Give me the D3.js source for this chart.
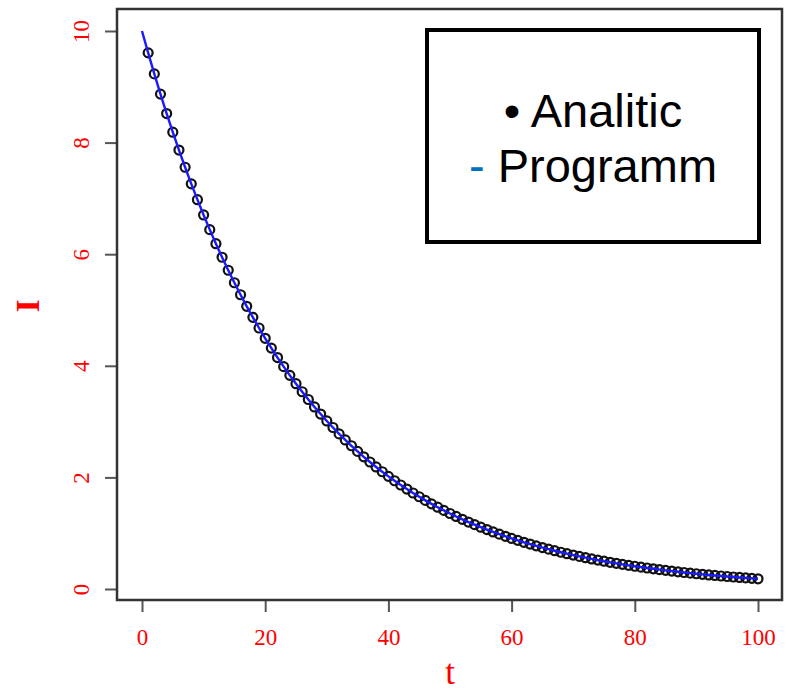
<!DOCTYPE html>
<html>
<head>
<meta charset="utf-8">
<script src="https://cdnjs.cloudflare.com/ajax/libs/d3/7.8.5/d3.min.js"></script>
<style>
    body { margin: 0; background: #fff; }
    svg { display: block; }
</style>
</head>
<body>
<div id="chart"></div>
<script>
// current I(t) for t = 0..100
var current = [
    10.00, 9.608, 9.231, 8.869, 8.521, 8.187, 7.866, 7.558, 7.261, 6.977,
    6.703, 6.440, 6.188, 5.945, 5.712, 5.488, 5.273, 5.066, 4.868, 4.677,
    4.493, 4.317, 4.148, 3.985, 3.829, 3.679, 3.535, 3.396, 3.263, 3.135,
    3.012, 2.894, 2.780, 2.671, 2.567, 2.466, 2.369, 2.276, 2.187, 2.101,
    2.019, 1.940, 1.864, 1.791, 1.720, 1.653, 1.588, 1.526, 1.466, 1.409,
    1.353, 1.300, 1.249, 1.200, 1.153, 1.108, 1.065, 1.023, 0.983, 0.944,
    0.907, 0.872, 0.837, 0.805, 0.773, 0.743, 0.714, 0.686, 0.659, 0.633,
    0.608, 0.584, 0.561, 0.539, 0.518, 0.498, 0.478, 0.460, 0.442, 0.424,
    0.408, 0.392, 0.376, 0.362, 0.347, 0.334, 0.321, 0.308, 0.296, 0.284,
    0.273, 0.263, 0.252, 0.243, 0.233, 0.224, 0.215, 0.207, 0.199, 0.191,
    0.183
];
var xTicks = [0, 20, 40, 60, 80, 100];
var yTicks = [0, 2, 4, 6, 8, 10];
var legendLabels = ["Analitic", "Programm"];

var w = 786, h = 693;
var box = {left: 117, top: 9, right: 782, bottom: 600};

var programm = current.map(function (v, i) { return {t: i, y: v}; });
var analitic = programm.filter(function (d) { return d.t >= 1; });

var xScale = d3.scaleLinear().domain([0, 100]).range([142, 758]);
var yScale = d3.scaleLinear().domain([0, 10]).range([589, 31]);

var svg = d3.select("#chart")
    .append("svg")
    .attr("width", w)
    .attr("height", h);

svg.append("rect")
    .attr("width", w).attr("height", h)
    .attr("fill", "#fff");

//x axis
var xAxis = d3.axisBottom(xScale).tickValues(xTicks).tickSize(12).tickSizeOuter(0);
var gx = svg.append("g")
    .attr("transform", "translate(0," + box.bottom + ")")
    .call(xAxis);
gx.select(".domain").remove();
gx.selectAll("line").attr("stroke", "#555").attr("stroke-width", 2);
gx.selectAll("text")
    .attr("y", 45).attr("dy", null)
    .attr("fill", "red")
    .style("font-family", "'Liberation Serif', 'Times New Roman', serif")
    .style("font-size", "23px");

//y axis
var yAxis = d3.axisLeft(yScale).tickValues(yTicks).tickSize(12).tickSizeOuter(0);
var gy = svg.append("g")
    .attr("transform", "translate(" + box.left + ",0)")
    .call(yAxis);
gy.select(".domain").remove();
gy.selectAll("line").attr("stroke", "#555").attr("stroke-width", 2);
gy.selectAll("text")
    .attr("transform", "rotate(-90)")
    .attr("x", 0).attr("y", -28).attr("dy", null)
    .attr("text-anchor", "middle")
    .attr("fill", "red")
    .style("font-family", "'Liberation Serif', 'Times New Roman', serif")
    .style("font-size", "23px");

//points and line
svg.append("g")
    .selectAll("circle")
    .data(analitic)
    .enter()
    .append("circle")
    .attr("cx", function (d) { return xScale(d.t); })
    .attr("cy", function (d) { return yScale(d.y); })
    .attr("r", 4.5)
    .attr("fill", "none")
    .attr("stroke", "#111")
    .attr("stroke-width", 2.2);

var line = d3.line()
    .x(function (d) { return xScale(d.t); })
    .y(function (d) { return yScale(d.y); });

svg.append("path")
    .datum(programm)
    .attr("d", line)
    .attr("fill", "none")
    .attr("stroke", "#1a1aff")
    .attr("stroke-width", 2.4);

//plot frame
svg.append("rect")
    .attr("x", box.left).attr("y", box.top)
    .attr("width", box.right - box.left)
    .attr("height", box.bottom - box.top)
    .attr("fill", "none")
    .attr("stroke", "#333")
    .attr("stroke-width", 2.5);

//axis titles
svg.append("text")
    .attr("x", 450).attr("y", 684)
    .attr("text-anchor", "middle")
    .attr("fill", "red")
    .style("font-family", "'Liberation Serif', 'Times New Roman', serif")
    .style("font-size", "35px")
    .text("t");

svg.append("text")
    .attr("transform", "translate(39,306) rotate(-90)")
    .attr("text-anchor", "middle")
    .attr("fill", "red")
    .style("font-family", "'Liberation Serif', 'Times New Roman', serif")
    .style("font-size", "34px")
    .style("font-weight", "bold")
    .text("I");

//legend
var legend = svg.append("g");
legend.append("rect")
    .attr("x", 427).attr("y", 30)
    .attr("width", 332).attr("height", 212)
    .attr("fill", "#fff")
    .attr("stroke", "#000")
    .attr("stroke-width", 4);

var t1 = legend.append("text")
    .attr("x", 593).attr("y", 127)
    .attr("text-anchor", "middle")
    .style("font-family", "'Liberation Sans', Arial, sans-serif")
    .style("font-size", "47px")
    .attr("fill", "#000");
t1.append("tspan").text("\u2022 ");
t1.append("tspan").text(legendLabels[0]);

var t2 = legend.append("text")
    .attr("x", 593).attr("y", 182)
    .attr("text-anchor", "middle")
    .style("font-family", "'Liberation Sans', Arial, sans-serif")
    .style("font-size", "47px")
    .attr("fill", "#000");
t2.append("tspan").attr("fill", "#0070c0").text("- ");
t2.append("tspan").text(legendLabels[1]);
</script>
</body>
</html>
